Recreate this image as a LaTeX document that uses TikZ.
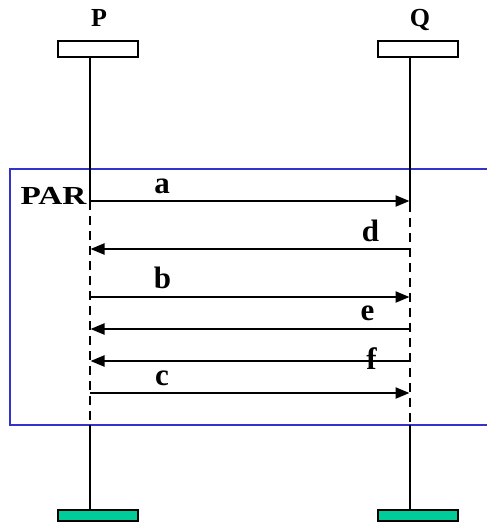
\documentclass[tikz,border=0pt]{standalone}
\usepackage{fontspec}
\setmainfont{Liberation Serif}
\usetikzlibrary{arrows.meta}
\definecolor{framblue}{HTML}{3333CC}
\definecolor{endgreen}{HTML}{00CC99}
\begin{document}
\begin{tikzpicture}[x=1pt,y=-1pt,
  line width=2.2pt,
  headbox/.style={draw=black, fill=white, line width=2.2pt, minimum width=80pt, minimum height=16pt, inner sep=0pt, outer sep=0pt},
  endbox/.style={draw=black, fill=endgreen, line width=2.2pt, minimum width=80pt, minimum height=11pt, inner sep=0pt, outer sep=0pt},
  instlabel/.style={font=\fontsize{26}{27}\selectfont\bfseries, anchor=base, inner sep=0pt},
  lbl/.style={font=\fontsize{31}{32}\selectfont\bfseries, anchor=base, inner sep=0pt},
  life/.style={line width=2.2pt},
  lifedash/.style={line width=2.2pt, dash pattern=on 9pt off 6pt},
  msg/.style={line width=2.2pt, -{Triangle[length=14pt,width=11pt]}, shorten >=0.5pt},
  regionframe/.style={draw=framblue, line width=2.2pt}]
\useasboundingbox (0,0) rectangle (487,523);

% instance heads and ends
\node[headbox] (Pbox) at (98,49) {};
\node[headbox] (Qbox) at (418,49) {};
\node[endbox] (Pend) at (98,515.5) {};
\node[endbox] (Qend) at (418,515.5) {};
\node[instlabel] (Pname) at (99,26.7) {P};
\node[instlabel] (Qname) at (420,26.7) {Q};

% lifeline points
\coordinate (Ptop) at (90,57);
\coordinate (Qtop) at (410,57);
\coordinate (Pbot) at (90,510);
\coordinate (Qbot) at (410,510);
\coordinate (Pds) at (90,201);
\coordinate (Qds) at (410,203);
\coordinate (Pde) at (90,425);
\coordinate (Qde) at (410,425);

% parallel region frame
\draw[regionframe] (487,169) -- (10,169) -- (10,425) -- (487,425);
\node[instlabel, xscale=1.28] (par) at (53.5,204) {PAR};

% lifelines
\draw[life] (Ptop) -- (Pds);
\draw[life] (Qtop) -- (Qds);
\draw[lifedash] (Pds) -- (Pde);
\draw[lifedash] (Qds) -- (Qde);
\draw[life] (Pde) -- (Pbot);
\draw[life] (Qde) -- (Qbot);

% message anchors
\foreach \n/\y in {a/201,d/249,b/297,e/329,f/361,c/393}{
  \coordinate (P\n) at (90,\y);
  \coordinate (Q\n) at (410,\y);
}

% messages
\draw[msg] (Pa) -- (Qa);
\draw[msg] (Qd) -- (Pd);
\draw[msg] (Pb) -- (Qb);
\draw[msg] (Qe) -- (Pe);
\draw[msg] (Qf) -- (Pf);
\draw[msg] (Pc) -- (Qc);

% message labels
\node[lbl] (la) at (162,193) {a};
\node[lbl] (ld) at (370.5,241) {d};
\node[lbl] (lb) at (162.5,288.5) {b};
\node[lbl] (le) at (367.5,320) {e};
\node[lbl] (lf) at (371.5,369.5) {f};
\node[lbl] (lc) at (162,385) {c};
\end{tikzpicture}
\end{document}
